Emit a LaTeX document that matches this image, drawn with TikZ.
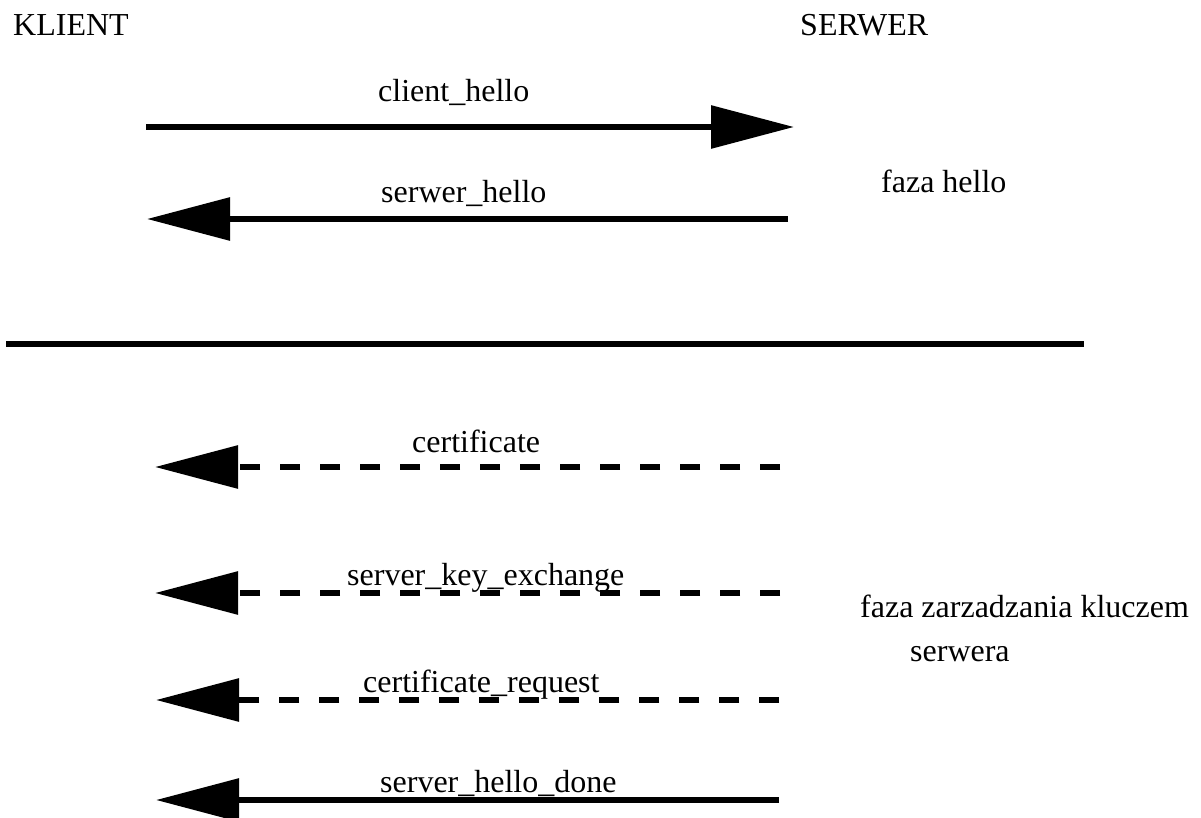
\documentclass[tikz,border=0pt]{standalone}
\usepackage{fontspec}
\setmainfont{Liberation Serif}
\usetikzlibrary{arrows.meta}
\begin{document}
\begin{tikzpicture}[x=1pt,y=-1pt,
  txt/.style={anchor=base west,inner sep=0pt,font=\fontsize{32}{38}\selectfont},
  msg/.style={line width=6pt,-{Triangle[length=83pt,width=42pt]}},
  opt/.style={msg,dash pattern=on 20.5pt off 19.5pt},
  rule/.style={line width=6pt}]
\useasboundingbox (0,0) rectangle (1201,818);
\node[txt] (klient) at (13,36) {KLIENT};
\node[txt] (serwer) at (800,36) {SERWER};
\node[txt] (l1) at (378,102) {client\_hello};
\node[txt] (l2) at (381,203) {serwer\_hello};
\node[txt] (fh) at (881,193) {faza hello};
\node[txt] (l3) at (412,452) {certificate};
\node[txt] (l4) at (347,585) {server\_key\_exchange};
\node[txt] (fz) at (860,617) {faza zarzadzania kluczem};
\node[txt] (fz2) at (910,661) {serwera};
\node[txt] (l5) at (363,692) {certificate\_request};
\node[txt] (l6) at (380,792) {server\_hello\_done};
\coordinate (c1) at (146,127); \coordinate (s1) at (794,127);
\coordinate (c2) at (147,219); \coordinate (s2) at (788,219);
\coordinate (c3) at (155,467); \coordinate (s3) at (780,467);
\coordinate (c4) at (155,593); \coordinate (s4) at (780,593);
\coordinate (c5) at (156,700); \coordinate (s5) at (779,700);
\coordinate (c6) at (156,800); \coordinate (s6) at (779,800);
\coordinate (r1) at (6,343.5); \coordinate (r2) at (1084,343.5);
\draw[msg] (c1) -- (s1);
\draw[msg] (s2) -- (c2);
\draw[opt] (s3) -- (c3);
\draw[opt] (s4) -- (c4);
\draw[opt] (s5) -- (c5);
\draw[msg] (s6) -- (c6);
\draw[rule] (r1) -- (r2);
\end{tikzpicture}
\end{document}
